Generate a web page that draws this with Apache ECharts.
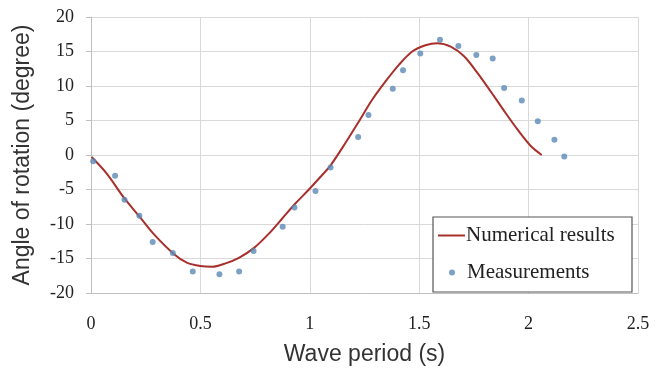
<!DOCTYPE html>
<html>
<head>
<meta charset="utf-8">
<script src="https://cdn.jsdelivr.net/npm/echarts@6/dist/echarts.min.js"></script>
<style>
html,body{margin:0;padding:0;background:#fff;}
#chart{width:656px;height:371px;}
</style>
</head>
<body>
<div id="chart"></div>
<script>
// Numerical results (line)
const numX = [0.003, 0.072, 0.153, 0.221, 0.285, 0.377, 0.438, 0.50, 0.553, 0.615, 0.676, 0.744, 0.813, 0.874, 0.935, 0.996, 1.045, 1.095, 1.164, 1.225, 1.285, 1.347, 1.408, 1.468, 1.528, 1.583, 1.644, 1.705, 1.766, 1.827, 1.888, 1.949, 2.010, 2.060];
const numY = [-0.3, -2.7, -6.3, -8.9, -11.4, -14.3, -15.6, -16.1, -16.2, -15.7, -14.9, -13.5, -11.4, -9.2, -7.0, -5.0, -3.3, -1.5, 1.8, 4.9, 8.0, 10.7, 13.1, 15.0, 15.9, 16.2, 15.7, 14.3, 11.9, 9.2, 6.4, 3.7, 1.3, 0.0];
// Measurements (dots)
const measX = [0.01, 0.11, 0.153, 0.221, 0.282, 0.374, 0.465, 0.587, 0.677, 0.743, 0.876, 0.93, 1.026, 1.095, 1.221, 1.268, 1.379, 1.426, 1.505, 1.595, 1.679, 1.761, 1.836, 1.888, 1.969, 2.042, 2.118, 2.163];
const measY = [-0.9, -3.0, -6.5, -8.8, -12.6, -14.2, -16.9, -17.3, -16.9, -13.9, -10.4, -7.6, -5.2, -1.8, 2.6, 5.8, 9.6, 12.3, 14.7, 16.7, 15.8, 14.5, 14.0, 9.7, 7.9, 4.9, 2.2, -0.2];
const xTicks = {min: 0, max: 2.5, interval: 0.5};
const yTicks = {min: -20, max: 20, interval: 5};

const chart = echarts.init(document.getElementById('chart'));
const serif = '"Liberation Serif", "Times New Roman", serif';
const sans = '"Liberation Sans", Arial, sans-serif';
chart.setOption({
  animation: false,
  backgroundColor: '#fff',
  grid: {left: 91, right: 18, top: 17, bottom: 75},
  xAxis: {
    type: 'value', min: xTicks.min, max: xTicks.max, interval: xTicks.interval,
    name: 'Wave period (s)', nameLocation: 'middle', nameGap: 50,
    nameTextStyle: {fontFamily: sans, fontSize: 23, color: '#333'},
    axisLine: {onZero: false, lineStyle: {color: '#bfbfbf'}},
    axisTick: {show: false},
    axisLabel: {fontFamily: serif, fontSize: 18, color: '#222', margin: 22},
    splitLine: {show: true, lineStyle: {color: '#d9d9d9'}}
  },
  yAxis: {
    type: 'value', min: yTicks.min, max: yTicks.max, interval: yTicks.interval,
    name: 'Angle of rotation (degree)', nameLocation: 'middle', nameGap: 57,
    nameTextStyle: {fontFamily: sans, fontSize: 23, color: '#333'},
    axisLine: {show: true, onZero: false, lineStyle: {color: '#bfbfbf'}},
    axisTick: {show: true, length: 5, lineStyle: {color: '#bfbfbf'}},
    axisLabel: {fontFamily: serif, fontSize: 18, color: '#222', margin: 17},
    splitLine: {show: true, lineStyle: {color: '#d9d9d9'}}
  },
  graphic: [{
    type: 'rect', z: 5,
    shape: {x: 433, y: 217, width: 199, height: 75},
    style: {fill: '#fff', stroke: '#555', lineWidth: 1.2}
  }],
  legend: [{
    z: 10, left: 438, top: 225, orient: 'vertical', padding: 0,
    data: [{name: 'Numerical results', icon: 'rect'}],
    itemWidth: 27, itemHeight: 2,
    textStyle: {fontFamily: serif, fontSize: 21, color: '#222', padding: [0, 0, 0, -4]}
  }, {
    z: 10, left: 449, top: 262, orient: 'vertical', padding: 0,
    data: [{name: 'Measurements', icon: 'circle'}],
    itemWidth: 6, itemHeight: 6,
    textStyle: {fontFamily: serif, fontSize: 21, color: '#222', padding: [0, 0, 0, 7]}
  }],
  series: [{
    name: 'Numerical results', type: 'line', smooth: 0.3, showSymbol: false,
    data: numX.map((x, i) => [x, numY[i]]),
    lineStyle: {color: '#a8302c', width: 2},
    itemStyle: {color: '#a8302c'},
    z: 2
  }, {
    name: 'Measurements', type: 'scatter', symbol: 'circle', symbolSize: 6,
    data: measX.map((x, i) => [x, measY[i]]),
    itemStyle: {color: '#5b8ab6'},
    z: 3
  }]
});
</script>
</body>
</html>
